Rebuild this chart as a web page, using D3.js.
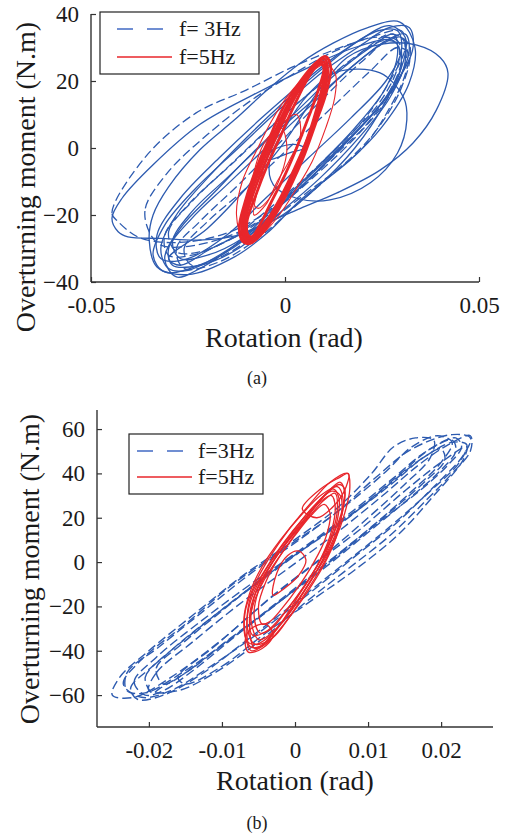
<!DOCTYPE html>
<html>
<head>
<meta charset="utf-8">
<script src="https://cdn.jsdelivr.net/npm/d3@7"></script>
<style>
  html, body { margin: 0; padding: 0; background: #fff; }
  svg { display: block; }
  text { font-family: "Liberation Serif", "Times New Roman", serif; fill: #1a1a1a; }
</style>
</head>
<body>
<div id="vis"></div>
<script>
// ---- panel (a) data, rotation (rad) vs moment (N.m) ----
var topXTicks = [-0.05, 0, 0.05]
var topXLabels = ["-0.05", "0", "0.05"]
var topYTicks = [-40, -20, 0, 20, 40]

// f = 3Hz loops that read as solid
var topBlueSolid = [
  [[-0.033,-35.5],[-0.035,-27.5],[-0.034,-20],[-0.030,-11.6],[-0.022,-0.6],[-0.013,8.4],[-0.0046,17.3],[0.004,25.4],[0.0124,31.3],[0.021,35.8],[0.0296,37.6],[0.0335,30],[0.032,19.4],[0.025,6.3],[0.0168,-3.6],[0.004,-15.5],[-0.0046,-25.4],[-0.013,-32.5],[-0.025,-37.8]],
  [[-0.030,-36],[-0.032,-30],[-0.028,-20],[-0.020,-9],[-0.010,3],[0.000,14],[0.010,24],[0.019,32],[0.027,36.5],[0.031,33],[0.030,24],[0.024,12],[0.014,0],[0.003,-12],[-0.007,-24],[-0.017,-32],[-0.025,-36.5]],
  [[-0.028,-38.5],[-0.031,-33],[-0.027,-24],[-0.018,-13],[-0.008,-1],[0.003,11],[0.013,22],[0.022,30],[0.028,34],[0.029,28],[0.026,18],[0.018,6],[0.008,-6],[-0.003,-18],[-0.013,-29],[-0.022,-36]],
  [[-0.032,-33],[-0.033,-26],[-0.027,-15],[-0.017,-3],[-0.006,9],[0.005,20],[0.015,29],[0.024,35],[0.029,35],[0.030,29],[0.026,20],[0.017,9],[0.006,-3],[-0.005,-15],[-0.015,-26],[-0.025,-33]],
  [[-0.029,-35],[-0.030,-30],[-0.024,-21],[-0.015,-11],[-0.005,0],[0.006,12],[0.016,23],[0.025,31],[0.030,33],[0.031,26],[0.027,15],[0.019,3],[0.009,-9],[-0.002,-20],[-0.012,-30],[-0.022,-35]],
  [[-0.031,-37],[-0.034,-32],[-0.031,-23],[-0.023,-12],[-0.012,0],[-0.001,12],[0.010,23],[0.020,31],[0.027,36],[0.032,36],[0.033,30],[0.029,20],[0.021,8],[0.011,-4],[0.000,-16],[-0.010,-27],[-0.020,-34]],
  [[-0.027,-33],[-0.029,-28],[-0.024,-19],[-0.015,-9],[-0.004,3],[0.008,15],[0.018,25],[0.026,32],[0.031,34],[0.032,29],[0.028,18],[0.020,7],[0.010,-5],[-0.001,-17],[-0.011,-27],[-0.020,-32]],
  [[-0.0446,-21],[-0.043,-25],[-0.0405,-26.5],[-0.032,-27],[-0.022,-27.5],[-0.012,-26],[-0.002,-21],[0.008,-12],[0.018,0],[0.026,14],[0.030,25],[0.028,32],[0.018,30],[0.006,24],[-0.008,16],[-0.022,7],[-0.034,-5],[-0.042,-15]],
  [[-0.030,-33],[-0.020,-24],[-0.010,-12],[0.000,2],[0.008,16],[0.016,27],[0.025,31],[0.034,30.7],[0.040,27],[0.042,22.4],[0.039,11.3],[0.033,1.5],[0.0245,-6.6],[0.0134,-13.4],[0.004,-18],[-0.008,-24],[-0.019,-30],[-0.027,-35]],
  [[0.0134,22.7],[0.0245,22.4],[0.0305,15.2],[0.0314,8.4],[0.029,-1.5],[0.022,-10.4],[0.0116,-15.5],[0.003,-15],[-0.003,-11],[-0.004,-4],[0.000,6],[0.006,16]],
  [[-0.006,-3],[-0.002,0],[0.003,1],[0.005,0],[0.001,-1.5],[-0.004,-3.5]]
]

// f = 3Hz loops that read as dashed
var topBlueDashed = [
  [[-0.043,-22],[-0.0446,-19.4],[-0.036,-2.7],[-0.023,10.4],[-0.010,17.3],[0.002,24.2],[0.012,29],[0.022,33],[0.030,35],[0.031,30],[0.027,20],[0.020,8],[0.010,-4],[0.000,-15],[-0.012,-24],[-0.025,-28],[-0.037,-27]],
  [[-0.035,-25],[-0.036,-18],[-0.030,-7],[-0.020,4],[-0.009,14],[0.002,22],[0.013,29],[0.023,33],[0.029,32],[0.030,26],[0.027,17],[0.021,7],[0.012,-3],[0.002,-14],[-0.010,-24],[-0.023,-29],[-0.032,-29]],
  [[-0.026,-36],[-0.028,-30],[-0.022,-22],[-0.012,-11],[-0.001,2],[0.010,15],[0.020,26],[0.028,33],[0.032,31],[0.031,22],[0.026,10],[0.020,0],[0.012,-8],[0.003,-17],[-0.007,-27],[-0.017,-34]],
  [[-0.030,-32],[-0.031,-26],[-0.025,-17],[-0.015,-6],[-0.004,6],[0.007,17],[0.017,26],[0.025,32],[0.029,31],[0.029,24],[0.024,13],[0.015,2],[0.006,-8],[-0.004,-18],[-0.014,-27],[-0.024,-32]],
  [[-0.024,-35],[-0.026,-30],[-0.020,-22],[-0.010,-12],[0.001,0],[0.012,12],[0.022,23],[0.029,30],[0.032,28],[0.030,18],[0.024,6],[0.016,-4],[0.006,-13],[-0.004,-22],[-0.014,-31]],
  [[-0.028,-31],[-0.030,-25],[-0.024,-16],[-0.013,-4],[-0.002,8],[0.009,19],[0.019,28],[0.027,34],[0.031,32],[0.031,25],[0.026,14],[0.018,3],[0.009,-7],[-0.001,-17],[-0.012,-26],[-0.022,-31]]
]

// f = 5Hz band (thick) and the thin stray loops
var topRedBand = [
  [[-0.0108,-28],[-0.0118,-24],[-0.0100,-15],[-0.0070,-5],[-0.0040,3],[-0.0005,12],[0.0040,20],[0.0080,25.5],[0.0105,27.3],[0.0118,24],[0.0105,16],[0.0078,7],[0.0050,-2],[0.0020,-10],[-0.0015,-18],[-0.0055,-25],[-0.0090,-28.5]],
  [[-0.0105,-27.5],[-0.0112,-23],[-0.0093,-14],[-0.0062,-4],[-0.0030,4],[0.0005,12.5],[0.0048,20.5],[0.0085,25.8],[0.0103,26.5],[0.0110,22.5],[0.0096,14.5],[0.0070,6],[0.0042,-2.5],[0.0010,-11],[-0.0025,-19],[-0.0063,-25.5],[-0.0092,-28]],
  [[-0.0102,-27],[-0.0106,-22],[-0.0086,-13],[-0.0055,-3.5],[-0.0022,5],[0.0012,13],[0.0053,21],[0.0088,25.5],[0.0101,25.6],[0.0104,21],[0.0088,13],[0.0064,4.5],[0.0035,-4],[0.0003,-12],[-0.0033,-20],[-0.0070,-25.5],[-0.0093,-27.5]],
  [[-0.0099,-26.5],[-0.0101,-21],[-0.0080,-13],[-0.0050,-4],[-0.0016,5],[0.0018,13.5],[0.0057,21],[0.0090,25],[0.0100,24.5],[0.0097,19],[0.0080,11],[0.0055,2],[0.0025,-6],[-0.0008,-14],[-0.0043,-21],[-0.0075,-25.5],[-0.0092,-27]],
  [[-0.0095,-26],[-0.0098,-22],[-0.0075,-14],[-0.0045,-5],[-0.0010,4],[0.0025,13],[0.0060,21],[0.0090,25.5],[0.0100,24],[0.0085,17],[0.0060,9],[0.0030,0],[0.0000,-8],[-0.0035,-16],[-0.0065,-23],[-0.0085,-26.5]]
]
var topRedThin = [
  [[-0.0110,-26],[-0.0125,-20],[-0.0110,-10],[-0.0070,0],[-0.0035,8],[0.0010,16],[0.0060,22],[0.0105,25],[0.0130,22],[0.0128,15],[0.0105,6],[0.0070,-4],[0.0030,-12],[-0.0015,-20],[-0.0065,-26]],
  [[-0.0080,-20],[-0.0060,-8],[-0.0030,2],[0.0000,8],[0.0030,10],[0.0040,4],[0.0010,-4],[-0.0020,-10],[-0.0050,-17]],
  [[-0.0085,-15],[-0.0075,-5],[-0.0045,3],[-0.0010,6],[0.0005,0],[-0.0010,-8],[-0.0040,-15],[-0.0070,-18]]
]

// ---- panel (b) data ----
var bottomXTicks = [-0.02, -0.01, 0, 0.01, 0.02]
var bottomXLabels = ["-0.02", "-0.01", "0", "0.01", "0.02"]
var bottomYTicks = [-60, -40, -20, 0, 20, 40, 60]

var bottomBlue = [
  [[-0.0210,-61],[-0.0235,-55],[-0.0210,-44],[-0.0150,-28],[-0.0085,-10],[-0.0015,6],[0.0055,22],[0.0110,38],[0.0160,51],[0.0215,57.5],[0.0240,56],[0.0230,48],[0.0190,34],[0.0140,18],[0.0080,2],[0.0020,-14],[-0.0050,-32],[-0.0120,-48],[-0.0170,-58]],
  [[-0.0205,-60],[-0.0220,-54],[-0.0190,-43],[-0.0130,-27],[-0.0065,-11],[0.0005,5],[0.0075,22],[0.0135,38],[0.0180,50],[0.0220,56],[0.0228,52],[0.0210,44],[0.0170,32],[0.0115,18],[0.0055,2],[-0.0010,-15],[-0.0080,-33],[-0.0140,-49],[-0.0180,-58]],
  [[-0.0195,-59],[-0.0205,-52],[-0.0170,-40],[-0.0110,-24],[-0.0045,-8],[0.0025,9],[0.0090,25],[0.0145,40],[0.0185,51],[0.0215,55],[0.0220,50],[0.0195,40],[0.0150,27],[0.0095,12],[0.0035,-4],[-0.0030,-20],[-0.0095,-36],[-0.0150,-50],[-0.0185,-57]],
  [[-0.0250,-60],[-0.0240,-52],[-0.0200,-40],[-0.0140,-24],[-0.0075,-7],[-0.0005,9],[0.0060,25],[0.0105,40],[0.0135,52],[0.0165,56],[0.0190,55],[0.0185,47],[0.0150,35],[0.0100,20],[0.0040,3],[-0.0030,-15],[-0.0100,-35],[-0.0170,-52],[-0.0220,-61]],
  [[-0.0200,-58],[-0.0190,-50],[-0.0140,-36],[-0.0080,-20],[-0.0010,-3],[0.0060,14],[0.0120,30],[0.0170,44],[0.0210,53],[0.0240,57],[0.0240,50],[0.0215,40],[0.0180,28],[0.0130,12],[0.0065,-5],[0.0015,-18],[-0.0050,-36],[-0.0110,-50],[-0.0160,-58]],
  [[-0.0180,-55],[-0.0190,-48],[-0.0155,-37],[-0.0100,-22],[-0.0040,-6],[0.0020,8],[0.0080,22],[0.0135,36],[0.0175,47],[0.0200,51],[0.0205,46],[0.0180,37],[0.0135,24],[0.0080,9],[0.0020,-7],[-0.0045,-24],[-0.0105,-39],[-0.0150,-50]],
  [[-0.0215,-62],[-0.0225,-57],[-0.0195,-47],[-0.0140,-32],[-0.0075,-15],[-0.0005,2],[0.0065,18],[0.0125,34],[0.0175,47],[0.0215,54],[0.0235,53],[0.0225,45],[0.0185,32],[0.0130,16],[0.0070,0],[0.0005,-17],[-0.0065,-35],[-0.0130,-51],[-0.0180,-60]],
  [[-0.0230,-58],[-0.0230,-50],[-0.0185,-38],[-0.0125,-22],[-0.0060,-5],[0.0010,11],[0.0075,27],[0.0125,41],[0.0160,52],[0.0195,57],[0.0215,54],[0.0200,45],[0.0160,32],[0.0105,16],[0.0045,0],[-0.0020,-17],[-0.0090,-35],[-0.0155,-50],[-0.0205,-59]],
  [[-0.0150,-55],[-0.0100,-47],[-0.0040,-32],[0.0030,-15.6],[0.0080,-4],[0.0140,12],[0.0190,30],[0.0230,46],[0.0235,52],[0.0200,45],[0.0150,32],[0.0090,15],[0.0030,0],[-0.0040,-18],[-0.0110,-38],[-0.0160,-52]]
]

var bottomRed = [
  [[-0.0060,-40],[-0.0068,-33],[-0.0068,-22],[-0.0055,-10],[-0.0035,2],[-0.0010,14],[0.0020,26],[0.0048,36],[0.0072,40],[0.0075,33],[0.0068,22],[0.0055,10],[0.0035,-3],[0.0010,-16],[-0.0015,-28],[-0.0040,-37]],
  [[-0.0055,-37],[-0.0065,-30],[-0.0062,-19],[-0.0048,-8],[-0.0025,4],[0.0000,15],[0.0025,25],[0.0050,32],[0.0062,30],[0.0064,22],[0.0056,11],[0.0040,-1],[0.0018,-13],[-0.0008,-25],[-0.0030,-34]],
  [[-0.0050,-35],[-0.0060,-27],[-0.0056,-16],[-0.0040,-5],[-0.0018,6],[0.0008,17],[0.0032,27],[0.0052,33],[0.0060,29],[0.0058,19],[0.0046,7],[0.0028,-5],[0.0005,-17],[-0.0020,-28],[-0.0040,-34]],
  [[-0.0058,-33],[-0.0062,-24],[-0.0052,-12],[-0.0033,-1],[-0.0008,10],[0.0018,20],[0.0040,28],[0.0055,31],[0.0058,24],[0.0050,12],[0.0033,0],[0.0010,-12],[-0.0015,-23],[-0.0038,-31]],
  [[-0.0045,-28],[-0.0050,-20],[-0.0040,-9],[-0.0022,2],[0.0000,12],[0.0022,21],[0.0040,26],[0.0048,22],[0.0042,11],[0.0026,0],[0.0005,-11],[-0.0018,-21],[-0.0035,-27]],
  [[-0.0062,-38],[-0.0066,-28],[-0.0060,-15],[-0.0040,-3],[-0.0015,9],[0.0012,20],[0.0040,30],[0.0062,36],[0.0068,31],[0.0063,20],[0.0048,7],[0.0026,-6],[0.0000,-19],[-0.0025,-30],[-0.0048,-38]],
  [[-0.0065,-36],[-0.0070,-26],[-0.0062,-14],[-0.0045,-2],[-0.0020,10],[0.0008,21],[0.0035,30],[0.0058,34],[0.0066,28],[0.0060,16],[0.0045,4],[0.0022,-8],[-0.0003,-21],[-0.0030,-32],[-0.0052,-37]],
  [[-0.0048,-32],[-0.0056,-24],[-0.0050,-13],[-0.0034,-2],[-0.0012,9],[0.0012,19],[0.0034,27],[0.0050,30],[0.0055,25],[0.0050,14],[0.0036,2],[0.0015,-10],[-0.0010,-21],[-0.0032,-30]],
  [[-0.0055,-39],[-0.0062,-31],[-0.0058,-20],[-0.0042,-8],[-0.0018,4],[0.0010,17],[0.0038,29],[0.0060,35],[0.0068,33],[0.0065,24],[0.0052,12],[0.0030,-2],[0.0005,-15],[-0.0020,-28],[-0.0042,-37]],
  [[-0.0030,-15],[-0.0025,-5],[-0.0010,3],[0.0005,5],[0.0015,1],[0.0005,-6],[-0.0015,-12]],
  [[0.0010,24],[0.0035,33],[0.0060,38],[0.0073,40],[0.0070,34],[0.0055,26],[0.0030,20]],
  [[-0.0068,-35],[-0.0064,-40.6],[-0.0045,-39],[-0.0030,-33],[-0.0040,-28],[-0.0060,-30]]
]

var legendTop = ["f= 3Hz", "f=5Hz"]
var legendBottom = ["f=3Hz", "f=5Hz"]

var blue = "#2d5bb0"
var red = "#e8262b"
var axisColor = "#333"

var svg = d3.select("#vis").append("svg")
    .attr("width", 505)
    .attr("height", 836)

function drawPanel(p) {
    var x = d3.scaleLinear().domain(p.xDomain).range([p.left, p.right])
    var y = d3.scaleLinear().domain(p.yDomain).range([p.bottom, p.top])
    var g = svg.append("g")

    var line = d3.line()
        .x(function (d) { return x(d[0]) })
        .y(function (d) { return y(d[1]) })
        .curve(d3.curveCatmullRomClosed.alpha(0.5))

    p.layers.forEach(function (layer) {
        g.append("g").selectAll("path")
            .data(layer.loops)
            .enter()
            .append("path")
            .attr("d", line)
            .attr("fill", "none")
            .attr("stroke", layer.color)
            .attr("stroke-width", layer.width)
            .attr("stroke-dasharray", layer.dash || null)
            .attr("stroke-linejoin", "round")
    })

    // axes: left and bottom only, ticks pointing inward
    var yAxis = d3.axisLeft(y).tickValues(p.yTicks).tickSize(-5).tickPadding(12).tickFormat(d3.format("d"))
    var gy = g.append("g").attr("transform", "translate(" + p.left + ",0)").call(yAxis)

    var xAxis = d3.axisBottom(x).tickValues(p.xTicks).tickSize(-5).tickPadding(15)
        .tickFormat(function (d, i) { return p.xLabels[i] })
    var gx = g.append("g").attr("transform", "translate(0," + p.bottom + ")").call(xAxis)

    ;[gx, gy].forEach(function (ax) {
        ax.select("path.domain").remove()
        ax.selectAll(".tick line").attr("stroke", axisColor).attr("stroke-width", 1.2)
        ax.selectAll(".tick text")
            .style("font-family", "Liberation Serif")
            .attr("font-size", "23px")
            .attr("fill", "#1a1a1a")
    })

    g.append("line").attr("x1", p.left).attr("x2", p.left)
        .attr("y1", p.top).attr("y2", p.bottom)
        .attr("stroke", axisColor).attr("stroke-width", 1.4)
    g.append("line").attr("x1", p.left).attr("x2", p.right)
        .attr("y1", p.bottom).attr("y2", p.bottom)
        .attr("stroke", axisColor).attr("stroke-width", 1.4)

    g.append("text")
        .attr("x", p.xLabelPos[0]).attr("y", p.xLabelPos[1])
        .attr("text-anchor", "middle")
        .attr("font-size", "28px")
        .text("Rotation (rad)")

    g.append("text")
        .attr("transform", "translate(" + p.yLabelPos[0] + "," + p.yLabelPos[1] + ") rotate(-90)")
        .attr("text-anchor", "middle")
        .attr("font-size", "28px")
        .text("Overturning moment (N.m)")

    g.append("text")
        .attr("x", 257).attr("y", p.captionY)
        .attr("text-anchor", "middle")
        .attr("font-size", "18px")
        .text(p.caption)

    // legend
    var L = p.legend
    g.append("rect")
        .attr("x", L.x).attr("y", L.y).attr("width", L.w).attr("height", L.h)
        .attr("fill", "#fff").attr("stroke", "#222").attr("stroke-width", 1.2)
    g.append("line")
        .attr("x1", L.lx).attr("x2", L.lx + 48)
        .attr("y1", L.y + L.row1).attr("y2", L.y + L.row1)
        .attr("stroke", "#4169c4").attr("stroke-width", 1.6)
        .attr("stroke-dasharray", "16,14")
    g.append("line")
        .attr("x1", L.lx).attr("x2", L.lx + 55)
        .attr("y1", L.y + L.row2).attr("y2", L.y + L.row2)
        .attr("stroke", red).attr("stroke-width", 1.6)
    L.labels.forEach(function (t, i) {
        g.append("text")
            .attr("x", L.tx)
            .attr("y", L.y + (i == 0 ? L.row1 : L.row2) + 7)
            .attr("font-size", "22px")
            .text(t)
    })
}

drawPanel({
    left: 91, right: 479, top: 14, bottom: 282,
    xDomain: [-0.05, 0.05], yDomain: [-40, 40],
    xTicks: topXTicks, xLabels: topXLabels, yTicks: topYTicks,
    layers: [
        { loops: topBlueSolid, color: blue, width: 1.3 },
        { loops: topBlueDashed, color: blue, width: 1.3, dash: "9,4" },
        { loops: topRedBand, color: red, width: 2.8 },
        { loops: topRedThin, color: red, width: 1.1 }
    ],
    xLabelPos: [284, 347], yLabelPos: [35, 177],
    caption: "(a)", captionY: 384,
    legend: { x: 100, y: 12, w: 159, h: 62, lx: 117, tx: 179, row1: 17, row2: 45, labels: legendTop }
})

drawPanel({
    left: 97, right: 493, top: 410, bottom: 727,
    xDomain: [-0.0271, 0.0271], yDomain: [-74.4, 68.6],
    xTicks: bottomXTicks, xLabels: bottomXLabels, yTicks: bottomYTicks,
    layers: [
        { loops: bottomBlue, color: blue, width: 1.4, dash: "9,4" },
        { loops: bottomRed, color: red, width: 1.3 }
    ],
    xLabelPos: [295, 790], yLabelPos: [39, 569],
    caption: "(b)", captionY: 829,
    legend: { x: 129, y: 434, w: 134, h: 60, lx: 137, tx: 198, row1: 17, row2: 43, labels: legendBottom }
})
</script>
</body>
</html>
